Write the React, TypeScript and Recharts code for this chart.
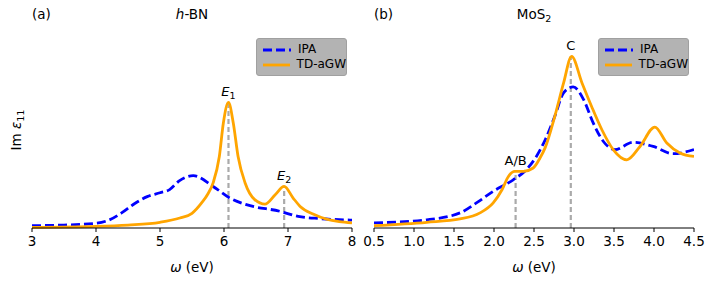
import React from "react";
import { LineChart, Line, XAxis, YAxis, ReferenceLine } from "recharts";

// h-BN, values as a fraction of the plot height
const bnIpaW = [3, 3.5, 4, 4.2, 4.4, 4.6, 4.8, 5.0, 5.15, 5.3, 5.52, 5.83, 6.09, 6.35, 6.875, 7.16, 7.5, 8.0];
const bnIpaV = [0.012, 0.015, 0.024, 0.04, 0.077, 0.124, 0.16, 0.18, 0.196, 0.24, 0.267, 0.212, 0.153, 0.119, 0.085, 0.059, 0.048, 0.04];
const bnTdW = [3, 4, 4.5, 5, 5.31, 5.5, 5.65, 5.75, 5.83, 5.927, 5.99, 6.07, 6.145, 6.22, 6.33, 6.48, 6.64, 6.8, 6.94, 7.08, 7.19, 7.4, 7.6, 7.8, 8.0];
const bnTdV = [0.003, 0.008, 0.015, 0.029, 0.051, 0.075, 0.128, 0.175, 0.23, 0.365, 0.536, 0.641, 0.536, 0.365, 0.23, 0.145, 0.122, 0.17, 0.212, 0.153, 0.11, 0.07, 0.045, 0.032, 0.026];
const bnTicks = [3, 4, 5, 6, 7, 8];
const bnPeaks = [
  { w: 6.07, v: 0.641, name: "E", sub: "1" },
  { w: 6.94, v: 0.212, name: "E", sub: "2" },
];

// MoS2
const mosIpaW = [0.5, 1.16, 1.575, 1.78, 1.99, 2.24, 2.41, 2.53, 2.64, 2.76, 2.87, 2.99, 3.12, 3.24, 3.37, 3.51, 3.74, 3.99, 4.24, 4.5];
const mosIpaV = [0.026, 0.042, 0.077, 0.128, 0.187, 0.246, 0.3, 0.365, 0.45, 0.57, 0.69, 0.72, 0.655, 0.536, 0.44, 0.4, 0.437, 0.416, 0.379, 0.4];
const mosTdW = [0.5, 1.16, 1.575, 1.825, 1.99, 2.1, 2.18, 2.26, 2.37, 2.49, 2.575, 2.64, 2.76, 2.87, 2.97, 3.1, 3.22, 3.35, 3.49, 3.66, 3.825, 4.01, 4.16, 4.325, 4.5];
const mosTdV = [0.012, 0.029, 0.046, 0.077, 0.128, 0.195, 0.263, 0.289, 0.289, 0.306, 0.357, 0.41, 0.57, 0.74, 0.876, 0.74, 0.62, 0.5, 0.4, 0.348, 0.416, 0.515, 0.434, 0.383, 0.365];
const mosTicks = [0.5, 1.0, 1.5, 2.0, 2.5, 3.0, 3.5, 4.0, 4.5];
const mosPeaks = [
  { w: 2.27, v: 0.289, name: "A/B", sub: "" },
  { w: 2.96, v: 0.876, name: "C", sub: "" },
];

const toPts = (ws: number[], vs: number[]) => ws.map((w, i) => ({ w, v: vs[i] }));

const FONT = "DejaVu Sans, sans-serif";

function LegendBox({ left }: { left: number }) {
  return (
    <div
      style={{
        position: "absolute",
        left,
        top: 38,
        background: "#b3b3b3",
        border: "1px solid #a0a0a0",
        borderRadius: 3,
        width: 91,
        height: 38,
        fontFamily: FONT,
        fontSize: 12,
        color: "#000",
        boxSizing: "border-box",
        padding: "3px 0 0 6px",
        lineHeight: "15px",
        whiteSpace: "nowrap",
      }}
    >
      <div style={{ display: "flex", alignItems: "center" }}>
        <svg width={28} height={6}>
          <line x1={0} y1={3} x2={28} y2={3} stroke="#0000ff" strokeWidth={2.8} strokeDasharray="9 4" />
        </svg>
        <span style={{ marginLeft: 7 }}>IPA</span>
      </div>
      <div style={{ display: "flex", alignItems: "center" }}>
        <svg width={28} height={6}>
          <line x1={0} y1={3} x2={28} y2={3} stroke="#ffa500" strokeWidth={2.8} />
        </svg>
        <span style={{ marginLeft: 7 }}>TD-aGW</span>
      </div>
    </div>
  );
}

function PeakLabel(props: any) {
  const { viewBox, name, sub, italic } = props;
  const x = viewBox.x;
  const y = viewBox.y - 6;
  return (
    <text x={x} y={y} textAnchor="middle" fontFamily={FONT} fontSize={13} fill="#000">
      <tspan fontStyle={italic ? "italic" : "normal"}>{name}</tspan>
      {sub ? (
        <tspan fontSize={9.5} dy={3}>
          {sub}
        </tspan>
      ) : null}
    </text>
  );
}

function Panel(props: any) {
  const { ipa, td, ticks, domain, peaks, italic, ml, mr, width } = props;
  return (
    <LineChart width={width} height={287} margin={{ top: 32, right: mr, bottom: 29, left: ml }}>
      <XAxis
        type="number"
        dataKey="w"
        domain={domain}
        ticks={ticks}
        allowDataOverflow
        tickFormatter={(t: number) => (domain[0] < 1 ? t.toFixed(1) : String(t))}
        tick={{ fontSize: 13.5, fill: "#000", fontFamily: FONT, dy: 2 }}
        tickLine={{ stroke: "#000" }}
        tickSize={4}
        axisLine={{ stroke: "#000" }}
        height={30}
      />
      <XAxis xAxisId="top" orientation="top" type="number" dataKey="w" domain={domain} tick={false} tickLine={false} axisLine={{ stroke: "#000" }} height={0} />
      <YAxis type="number" domain={[0, 1]} tick={false} tickLine={false} axisLine={{ stroke: "#000" }} width={0} />
      <YAxis yAxisId="r" orientation="right" type="number" domain={[0, 1]} tick={false} tickLine={false} axisLine={{ stroke: "#000" }} width={0} />
      {peaks.map((p: any) => (
        <ReferenceLine
          key={p.name + p.sub}
          segment={[
            { x: p.w, y: 0 },
            { x: p.w, y: p.v },
          ]}
          stroke="#aaaaaa"
          strokeWidth={2.2}
          strokeDasharray="5 3"
          label={(lp: any) => <PeakLabel {...lp} name={p.name} sub={p.sub} italic={italic} />}
        />
      ))}
      <Line data={ipa} dataKey="v" type="monotone" stroke="#0000ff" strokeWidth={2.8} strokeDasharray="9 4" dot={false} isAnimationActive={false} />
      <Line data={td} dataKey="v" type="monotone" stroke="#ffa500" strokeWidth={2.8} dot={false} isAnimationActive={false} />
    </LineChart>
  );
}

const textStyle: React.CSSProperties = {
  position: "absolute",
  fontFamily: FONT,
  fontSize: 13.5,
  color: "#000",
  whiteSpace: "nowrap",
};

export default function App() {
  return (
    <div style={{ position: "absolute", left: 0, top: 0, width: 717, height: 287, background: "#fff" }}>
      <div style={{ position: "absolute", left: 0, top: 0 }}>
        <Panel ipa={toPts(bnIpaW, bnIpaV)} td={toPts(bnTdW, bnTdV)} ticks={bnTicks} domain={[3, 8]} peaks={bnPeaks} italic ml={32} mr={8} width={360} />
      </div>
      <div style={{ position: "absolute", left: 360, top: 0 }}>
        <Panel ipa={toPts(mosIpaW, mosIpaV)} td={toPts(mosTdW, mosTdV)} ticks={mosTicks} domain={[0.5, 4.5]} peaks={mosPeaks} italic={false} ml={14} mr={23} width={357} />
      </div>
      <LegendBox left={256} />
      <LegendBox left={598} />
      <div style={{ ...textStyle, left: 32, top: 6 }}>(a)</div>
      <div style={{ ...textStyle, left: 192, top: 6, transform: "translateX(-50%)" }}>
        <i>h</i>-BN
      </div>
      <div style={{ ...textStyle, left: 374, top: 6 }}>(b)</div>
      <div style={{ ...textStyle, left: 534, top: 6, transform: "translateX(-50%)" }}>
        MoS<sub style={{ fontSize: 9.5, verticalAlign: "-3px" }}>2</sub>
      </div>
      <div style={{ ...textStyle, left: 192, top: 259, transform: "translateX(-50%)" }}>
        <i>ω</i> (eV)
      </div>
      <div style={{ ...textStyle, left: 534, top: 259, transform: "translateX(-50%)" }}>
        <i>ω</i> (eV)
      </div>
      <div style={{ ...textStyle, left: 17, top: 130, transform: "translate(-50%, -50%) rotate(-90deg)" }}>
        Im <i>ε</i>
        <sub style={{ fontSize: 9.5, verticalAlign: "-3px" }}>11</sub>
      </div>
    </div>
  );
}
